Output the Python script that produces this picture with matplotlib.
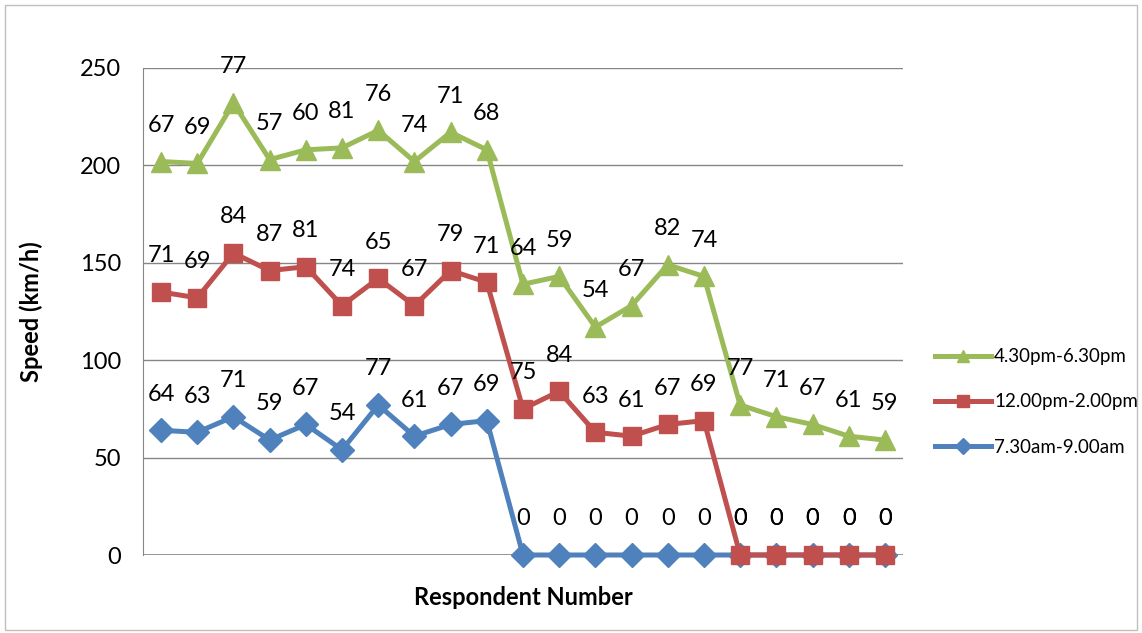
import numpy as np
import matplotlib.pyplot as plt
from matplotlib.patches import Rectangle

plt.rcParams['font.family'] = ['Lato', 'DejaVu Sans']

# individual speeds per period (the chart stacks them)
morning = [64, 63, 71, 59, 67, 54, 77, 61, 67, 69, 0, 0, 0, 0, 0, 0, 0, 0, 0, 0, 0]
noon = [71, 69, 84, 87, 81, 74, 65, 67, 79, 71, 75, 84, 63, 61, 67, 69, 0, 0, 0, 0, 0]
evening = [67, 69, 77, 57, 60, 81, 76, 74, 71, 68, 64, 59, 54, 67, 82, 74, 77, 71, 67, 61, 59]
series_names = ['7.30am-9.00am', '12.00pm-2.00pm', '4.30pm-6.30pm']
yticks = [0, 50, 100, 150, 200, 250]

colors = ['#4F81BD', '#C0504D', '#9BBB59']
markers = ['D', 's', '^']
msizes = [12, 13, 14]

fig = plt.figure(figsize=(11.42, 6.33), dpi=100)
ax = fig.add_axes([143/1142, 78/633, 760/1142, 487/633])

x = np.arange(len(morning))
stack = np.zeros(len(morning))
lines = []
for vals, name, c, m, ms in zip([morning, noon, evening], series_names, colors, markers, msizes):
    vals = np.array(vals)
    stack = stack + vals
    ln, = ax.plot(x, stack, color=c, lw=3.6, marker=m, markersize=ms,
                  label=name, zorder=3, clip_on=False)
    lines.append(ln)
    for xi, yi, v in zip(x, stack, vals):
        ax.annotate(str(v), (xi, yi), xytext=(0, 26), textcoords='offset points',
                    ha='center', va='center', fontsize=17, color='black')

ax.set_xlim(-0.5, len(morning) - 0.5)
ax.set_ylim(0, 250)
ax.set_yticks(yticks)
ax.set_xticks([])
ax.tick_params(axis='y', length=0, labelsize=17, pad=16)
ax.yaxis.grid(True, color='#868686', lw=1)
ax.set_axisbelow(True)
for s in ['top', 'right', 'bottom']:
    ax.spines[s].set_visible(False)
ax.spines['left'].set_color('#868686')
ax.axhline(0, color='#868686', lw=1.2, zorder=1)

ax.set_ylabel('Speed (km/h)', fontsize=17, fontweight='bold', labelpad=26)
ax.set_xlabel('Respondent Number', fontsize=17, fontweight='bold', labelpad=22)

fig.legend(lines[::-1], series_names[::-1], loc='center left',
           bbox_to_anchor=(918/1142, 231/633), frameon=False, fontsize=13.5,
           labelspacing=1.5, handlelength=3.0, handletextpad=0.15, markerscale=0.65)

fig.patches.append(Rectangle((5/1142, 3/633), 1132/1142, 625/633, transform=fig.transFigure,
                             fill=False, edgecolor='#BFBFBF', lw=1))

fig.savefig('out.png', dpi=100)
